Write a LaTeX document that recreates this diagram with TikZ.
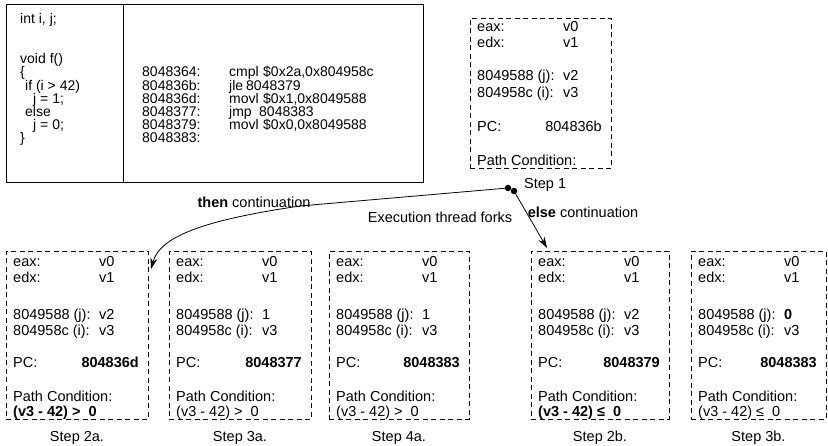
\documentclass[tikz,border=0pt]{standalone}
\usepackage{fontspec}
\setmainfont{Liberation Sans}
\usetikzlibrary{arrows.meta}
\tikzset{
  txt/.style={inner sep=0pt, anchor=base west, font=\fontsize{14.5}{16}\selectfont},
  codetxt/.style={inner sep=0pt, anchor=base west, font=\fontsize{14}{15}\selectfont, text height=9pt, text depth=2pt},
  txtr/.style={inner sep=0pt, anchor=base east, font=\fontsize{14.5}{16}\selectfont},
  txtc/.style={inner sep=0pt, anchor=base, font=\fontsize{14.5}{16}\selectfont},
  codebox/.style={draw, line width=1pt, inner sep=0pt, anchor=north west},
  statebox/.style={draw, dashed, dash pattern=on 5pt off 3.5pt, line width=0.75pt, inner sep=0pt, anchor=north west},
  dot/.style={circle, fill, inner sep=0pt, minimum size=6.5pt},
  arr/.style={line width=0.8pt, -{Stealth[length=11pt,width=7pt]}}
}
% #1 prefix, #2 left, #3 top, #4 right, #5 bottom, #6 j value, #7 pc value, #8 condition, #9 step label
\newcommand\mystate[9]{%
  \node[statebox, minimum width={(#4-#2)*1pt}, minimum height={(#5-#3)*1pt}] (#1box) at (#2,#3) {};
  \node[txt] (#1eax) at ({#2+7},{#3+16}) {eax:};
  \node[txt] (#1eaxv) at ({#2+93},{#3+16}) {v0};
  \node[txt] (#1edx) at ({#2+7},{#3+32}) {edx:};
  \node[txt] (#1edxv) at ({#2+93},{#3+32}) {v1};
  \node[txt] (#1j) at ({#2+7},{#3+69}) {8049588 (j):};
  \node[txt] (#1jv) at ({#2+93},{#3+69}) {#6};
  \node[txt] (#1i) at ({#2+7},{#3+85}) {804958c (i):};
  \node[txt] (#1iv) at ({#2+93},{#3+85}) {v3};
  \node[txt] (#1pc) at ({#2+7},{#3+117}) {PC:};
  \node[txtr] (#1pcv) at ({#4-9},{#3+117}) {#7};
  \node[txt] (#1path) at ({#2+7},{#3+151}) {Path Condition:};
  \node[txt] (#1cond) at ({#2+7},{#3+166}) {#8};
  \node[txtc] (#1lab) at ({(#2+#4)/2},442) {#9};
}
\begin{document}
\begin{tikzpicture}[x=1pt,y=-1pt]
\useasboundingbox (0,0) rectangle (828,446);
% code box
\node[codebox, minimum width=417pt, minimum height=178pt] (code) at (6,4) {};
\draw[line width=1pt] ([xshift=117pt]code.north west) -- ([xshift=117pt]code.south west);
\node[codetxt] (c1) at (20,24) {int i, j;};
\node[codetxt] (c2) at (20,64) {void f()};
\node[codetxt] (c3) at (20,77) {\{};
\node[codetxt] (c4) at (25,90.2) {if (i > 42)};
\node[codetxt] (c5) at (33,103.4) {j = 1;};
\node[codetxt] (c6) at (25,116.6) {else};
\node[codetxt] (c7) at (33,129.8) {j = 0;};
\node[codetxt] (c8) at (20,143) {\}};
\node[codetxt] (a1) at (142,77) {8048364:};
\node[codetxt] (a2) at (142,90.2) {804836b:};
\node[codetxt] (a3) at (142,103.4) {804836d:};
\node[codetxt] (a4) at (142,116.6) {8048377:};
\node[codetxt] (a5) at (142,129.8) {8048379:};
\node[codetxt] (a6) at (142,143) {8048383:};
\node[codetxt] (m1) at (229,77) {cmpl};
\node[codetxt] (m2) at (229,90.2) {jle};
\node[codetxt] (m3) at (229,103.4) {movl};
\node[codetxt] (m4) at (229,116.6) {jmp};
\node[codetxt] (m5) at (229,129.8) {movl};
\node[codetxt] (o1) at (263,77) {\$0x2a,0x804958c};
\node[codetxt] (o2) at (246,90.2) {8048379};
\node[codetxt] (o3) at (263,103.4) {\$0x1,0x8049588};
\node[codetxt] (o4) at (259,116.6) {8048383};
\node[codetxt] (o5) at (263,129.8) {\$0x0,0x8049588};
% step 1 box
\node[statebox, minimum width=141pt, minimum height=150pt] (s1box) at (470,18) {};
\node[txt] (s1eax) at (477,32) {eax:};
\node[txt] (s1eaxv) at (563,32) {v0};
\node[txt] (s1edx) at (477,48) {edx:};
\node[txt] (s1edxv) at (563,48) {v1};
\node[txt] (s1j) at (477,81) {8049588 (j):};
\node[txt] (s1jv) at (563,81) {v2};
\node[txt] (s1i) at (477,98) {804958c (i):};
\node[txt] (s1iv) at (563,98) {v3};
\node[txt] (s1pc) at (477,132) {PC:};
\node[txtr] (s1pcv) at (602,132) {804836b};
\node[txt] (s1path) at (477,166) {Path Condition:};
\node[txt] (s1lab) at (524,189) {Step 1};
% bottom boxes
\mystate{sa}{6}{251}{148}{419}{v2}{\textbf{804836d}}{\textbf{(v3 - 42) >\ \ 0}}{Step 2a.}
\mystate{sb}{169}{251}{311}{419}{1}{\textbf{8048377}}{(v3 - 42) >\ \ 0}{Step 3a.}
\mystate{sc}{329}{251}{469}{419}{1}{\textbf{8048383}}{(v3 - 42) >\ \ 0}{Step 4a.}
\mystate{sd}{531}{251}{669}{419}{v2}{\textbf{8048379}}{\textbf{(v3 - 42) ≤\ \ 0}}{Step 2b.}
\mystate{se}{691}{251}{826}{419}{\textbf{0}}{\textbf{8048383}}{(v3 - 42) ≤\ \ 0}{Step 3b.}
% fork
\node[dot] (d1) at (508,188) {};
\node[dot] (d2) at (514,191) {};
\coordinate (tipA) at (151,269);
\coordinate (tipB) at (547,248);
\draw[arr] (d1.center) -- (300,206) .. controls (205,220) and (160,236) .. (tipA);
\draw[arr] (d2.center) -- (tipB);
\node[txtc] (then) at (254,208) {\textbf{then} continuation};
\node[txtc] (fork) at (440,223) {Execution thread forks};
\node[txtc] (else) at (583,218) {\textbf{else} continuation};
\end{tikzpicture}
\end{document}
